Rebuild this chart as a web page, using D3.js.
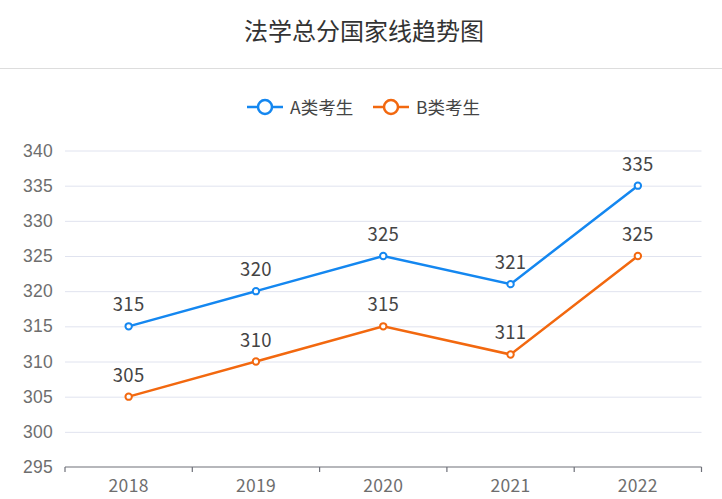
<!DOCTYPE html>
<html><head><meta charset="utf-8">
<script src="https://cdn.jsdelivr.net/npm/d3@7"></script>
<style>body{margin:0;background:#fff;}svg{display:block;font-family:"Microsoft YaHei","Noto Sans CJK SC",sans-serif;}</style>
</head><body>
<svg id="c" width="722" height="499"></svg>
<script>
const title = "法学总分国家线趋势图";
const categories = ["2018","2019","2020","2021","2022"];
const seriesNames = ["A类考生","B类考生"];
const seriesA = [315,320,325,321,335];
const seriesB = [305,310,315,311,325];
const yTicks = [295,300,305,310,315,320,325,330,335,340];
const colors = ["#1487f0","#f2680f"];

const svg = d3.select("#c");
const x = d3.scaleBand().domain(categories).range([65, 701.5]);
const y = d3.scaleLinear().domain([295,340]).range([467, 150.5]);

svg.append("text").attr("x",364).attr("y",40).attr("text-anchor","middle")
  .attr("font-size",24).attr("fill","#333").text(title);
svg.append("line").attr("x1",0).attr("x2",722).attr("y1",68.5).attr("y2",68.5)
  .attr("stroke","#ddd").attr("stroke-width",1);

// grid
const grid = svg.append("g").attr("transform","translate(65,0)")
  .call(d3.axisLeft(y).tickValues(yTicks.filter(v=>v!==295)).tickSize(-636.5).tickFormat(""));
grid.select(".domain").remove();
grid.selectAll("line").attr("stroke","#e0e3ef").attr("stroke-width",1);

// y labels
const yl = svg.append("g").attr("transform","translate(65,0)")
  .call(d3.axisLeft(y).tickValues(yTicks).tickSize(0).tickPadding(12));
yl.select(".domain").remove();
yl.selectAll("text").attr("font-size",17.5).attr("fill","#6e6e6e").attr("font-family","inherit")
  .attr("letter-spacing",0.3);

// x axis
const xa = svg.append("g").attr("transform","translate(0,467)");
xa.append("line").attr("x1",65).attr("x2",701.5).attr("stroke","#6e7079").attr("stroke-width",1.2);
const bounds = categories.map(c=>x(c)).concat([x.range()[1]]);
xa.selectAll("line.t").data(bounds).join("line").attr("class","t")
  .attr("x1",d=>d).attr("x2",d=>d).attr("y1",0).attr("y2",5).attr("stroke","#6e7079").attr("stroke-width",1.2);
xa.selectAll("text").data(categories).join("text")
  .attr("x",d=>x(d)+x.bandwidth()/2).attr("y",25).attr("text-anchor","middle")
  .attr("font-size",17.5).attr("fill","#6e6e6e").attr("letter-spacing",0.3).text(d=>d);

const cx = d => x(d)+x.bandwidth()/2;
[seriesA, seriesB].forEach((vals,i)=>{
  const data = categories.map((c,j)=>({c, v: vals[j]}));
  svg.append("path").datum(data)
    .attr("d", d3.line().x(d=>cx(d.c)).y(d=>y(d.v)))
    .attr("fill","none").attr("stroke",colors[i]).attr("stroke-width",2.5);
  svg.selectAll("circle.s"+i).data(data).join("circle").attr("class","s"+i)
    .attr("cx",d=>cx(d.c)).attr("cy",d=>y(d.v)).attr("r",3.2)
    .attr("fill","#fff").attr("stroke",colors[i]).attr("stroke-width",2);
  svg.selectAll("text.l"+i).data(data).join("text").attr("class","l"+i)
    .attr("x",d=>cx(d.c)).attr("y",d=>y(d.v)-15).attr("text-anchor","middle")
    .attr("font-size",18.5).attr("fill","#444").attr("letter-spacing",0.3).text(d=>d.v);
});

// legend
const lg = svg.append("g");
const lx = [247, 373];
seriesNames.forEach((n,i)=>{
  const g = lg.append("g").attr("transform",`translate(${lx[i]},107)`);
  g.append("line").attr("x1",0).attr("x2",36).attr("stroke",colors[i]).attr("stroke-width",2.5);
  g.append("circle").attr("cx",18).attr("cy",0).attr("r",7).attr("fill","#fff")
    .attr("stroke",colors[i]).attr("stroke-width",2.5);
  g.append("text").attr("x",43).attr("y",6.5).attr("font-size",17.5).attr("fill","#444").text(n);
});
</script>
</body></html>
